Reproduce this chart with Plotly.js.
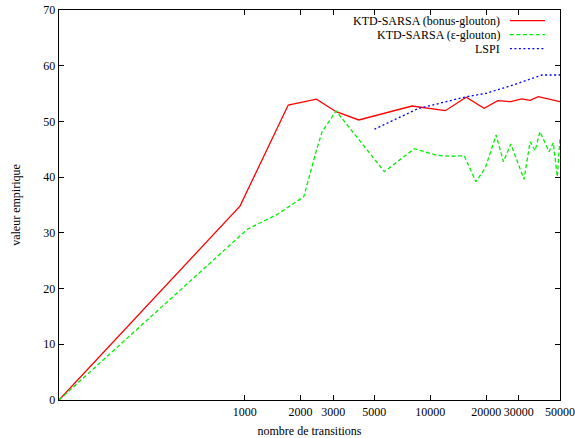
<!DOCTYPE html>
<html>
<head>
<meta charset="utf-8">
<script src="https://cdn.plot.ly/plotly-3.0.1.min.js"></script>
<style>html,body{margin:0;padding:0;background:#fff;}#chart{width:575px;height:438px;}</style>
</head>
<body>
<div id="chart"></div>
<script>
// Series names
const seriesNames = ["KTD-SARSA (bonus-glouton)", "KTD-SARSA (ε-glouton)", "LSPI"];

// KTD-SARSA (bonus-glouton)
const bonusX = [100, 944, 1718, 2438, 3112, 4120, 7980, 12050, 15620, 19500, 23120, 27160, 31120, 34500, 38200, 45100, 50000];
const bonusY = [0, 34.8, 52.95, 54.0, 51.75, 50.26, 52.77, 51.93, 54.33, 52.36, 53.72, 53.54, 54.05, 53.79, 54.44, 53.9, 53.54];

// KTD-SARSA (epsilon-glouton)
const epsX = [100, 1034, 1500, 2084, 2438, 2616, 3112, 5660, 8200, 10860, 12820, 15230, 17620, 19760, 22640, 24770, 27160, 32000, 34500, 36700, 39000, 43650, 46000, 48350, 50000];
const epsY = [0, 30.64, 33.33, 36.49, 44.87, 48.16, 51.87, 40.98, 45.1, 43.92, 43.74, 43.85, 39.18, 41.59, 47.56, 42.77, 45.95, 39.61, 46.36, 44.75, 48.16, 44.57, 46.18, 40.08, 47.15];

// LSPI
const lspiX = [5000, 8600, 15500, 20000, 28000, 34500, 40000, 50000];
const lspiY = [48.6, 52.3, 54.4, 55.05, 56.54, 57.62, 58.33, 58.33];

// Axis ticks
const xTickVals = [1000, 2000, 3000, 5000, 10000, 20000, 30000, 50000];
const xTickText = ["1000", "2000", "3000", "5000", "10000", "20000", "30000", "50000"];
const yTickVals = [0, 10, 20, 30, 40, 50, 60, 70];

const colors = ["#ff0000", "#00ee00", "#0000ff"];
const dashes = ["solid", "4px,2.5px", "2px,2.5px"];

const traces = [
  {x: bonusX, y: bonusY, name: seriesNames[0], mode: "lines", line: {color: colors[0], width: 1.3, dash: dashes[0]}},
  {x: epsX, y: epsY, name: seriesNames[1], mode: "lines", line: {color: colors[1], width: 1.3, dash: dashes[1]}},
  {x: lspiX, y: lspiY, name: seriesNames[2], mode: "lines", line: {color: colors[2], width: 1.3, dash: dashes[2]}}
];

// Legend drawn gnuplot-style (text right, sample to the right)
const legY = [0.973, 0.937, 0.901];
const annotations = seriesNames.map((n, i) => ({
  xref: "paper", yref: "paper", x: 0.884, y: legY[i], xanchor: "right", yanchor: "middle",
  text: n, showarrow: false, font: {family: "Liberation Serif", size: 12, color: "#000"}
}));
const shapes = seriesNames.map((n, i) => ({
  type: "line", xref: "paper", yref: "paper", x0: 0.900, x1: 0.970, y0: legY[i], y1: legY[i],
  line: {color: colors[i], width: 1.3, dash: dashes[i]}
}));

const axisCommon = {
  showline: true, linecolor: "#000", linewidth: 1.3, mirror: "ticks",
  ticks: "inside", ticklen: 5, tickcolor: "#000", tickwidth: 1,
  showgrid: false, zeroline: false,
  tickfont: {family: "Liberation Serif", size: 12, color: "#000"}
};

const layout = {
  width: 575, height: 438,
  margin: {l: 59, r: 15, t: 10, b: 38},
  paper_bgcolor: "#fff", plot_bgcolor: "#fff",
  showlegend: false,
  font: {family: "Liberation Serif", size: 12, color: "#000"},
  xaxis: Object.assign({}, axisCommon, {
    type: "log", range: [2, Math.log10(50000)],
    tickmode: "array", tickvals: xTickVals, ticktext: xTickText,
    title: {text: "nombre de transitions", font: {family: "Liberation Serif", size: 12}, standoff: 9}
  }),
  yaxis: Object.assign({}, axisCommon, {
    range: [0, 70], tickmode: "array", tickvals: yTickVals,
    title: {text: "valeur empirique", font: {family: "Liberation Serif", size: 12}, standoff: 20}
  }),
  annotations: annotations,
  shapes: shapes
};

Plotly.newPlot("chart", traces, layout, {displayModeBar: false, staticPlot: true});
</script>
</body>
</html>
